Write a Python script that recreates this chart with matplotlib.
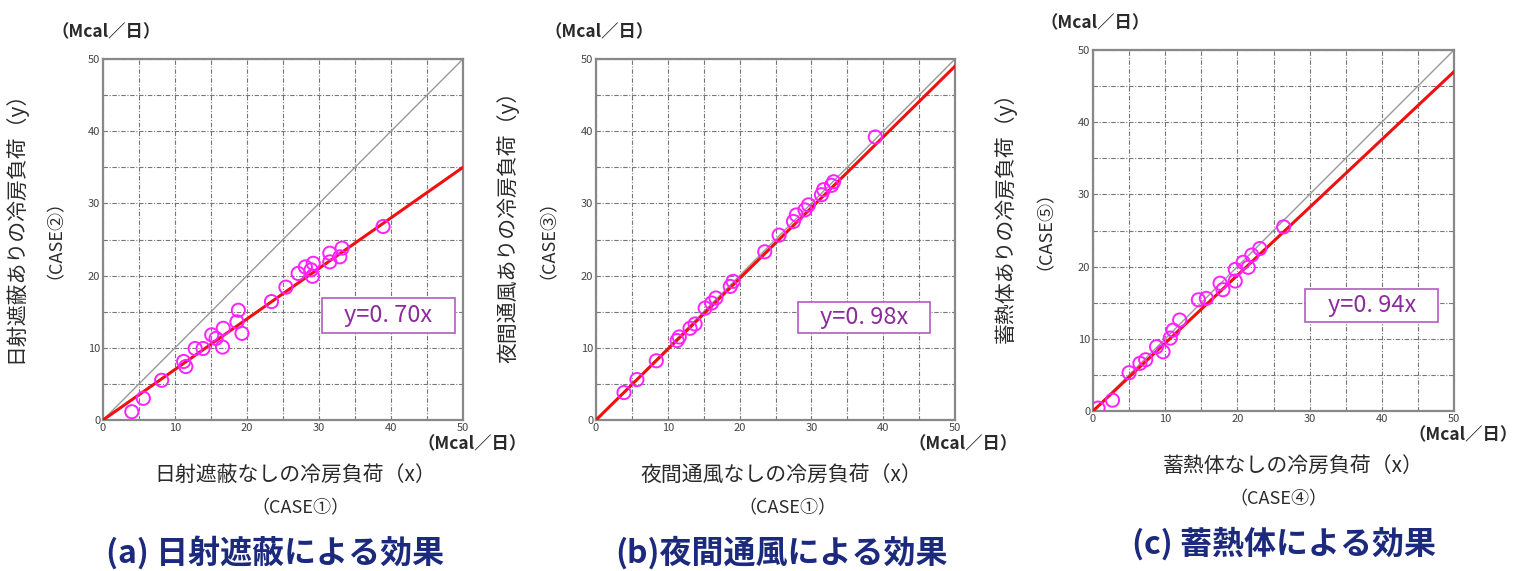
import matplotlib
matplotlib.use("Agg")
import matplotlib.pyplot as plt
from matplotlib.patches import Rectangle
import numpy as np

plt.rcParams['font.family'] = ['Noto Sans CJK JP', 'DejaVu Sans']

# ---- data ----
xa = [4.0, 5.6, 8.15, 11.2, 11.5, 12.8, 13.9, 15.1, 15.7, 16.7, 16.6, 18.6, 18.8, 19.3,
      23.4, 25.4, 27.1, 28.1, 28.9, 29.2, 29.1, 31.5, 31.5, 32.9, 33.2, 38.9]
ya = [1.15, 3.0, 5.5, 8.1, 7.4, 9.9, 9.9, 11.8, 11.3, 12.7, 10.1, 13.6, 15.2, 12.0,
      16.4, 18.4, 20.3, 21.2, 20.8, 21.7, 19.9, 23.1, 21.9, 22.6, 23.8, 26.8]
xb = [3.9, 5.7, 8.4, 11.3, 11.6, 13.1, 13.8, 15.2, 16.1, 16.7, 18.7, 19.1,
      23.5, 25.5, 27.5, 27.9, 29.1, 29.6, 31.4, 31.7, 32.8, 33.1, 38.9]
yb = [3.8, 5.6, 8.2, 11.0, 11.5, 12.7, 13.3, 15.5, 16.2, 16.9, 18.5, 19.2,
      23.3, 25.6, 27.5, 28.4, 29.1, 29.8, 31.2, 31.9, 32.5, 33.0, 39.2]
xc = [0.7, 2.7, 5.0, 6.5, 7.3, 8.8, 9.7, 10.7, 11.1, 12.0, 14.6, 15.7, 17.6, 18.0,
      19.7, 19.7, 20.8, 21.5, 22.0, 23.1, 26.4]
yc = [0.4, 1.5, 5.3, 6.6, 7.1, 8.9, 8.2, 10.1, 11.2, 12.6, 15.4, 15.6, 17.7, 16.8,
      19.6, 18.0, 20.6, 19.9, 21.6, 22.5, 25.5]
slopes = [0.70, 0.98, 0.94]
fit_labels = ['y=0. 70x', 'y=0. 98x', 'y=0. 94x']
ylabels = ['日射遮蔽ありの冷房負荷（y）', '夜間通風ありの冷房負荷（y）', '蓄熱体ありの冷房負荷（y）']
ycases = ['（CASE②）', '（CASE③）', '（CASE⑤）']
xlabels = ['日射遮蔽なしの冷房負荷（x）', '夜間通風なしの冷房負荷（x）', '蓄熱体なしの冷房負荷（x）']
xcases = ['（CASE①）', '（CASE①）', '（CASE④）']
titles = ['(a) 日射遮蔽による効果', '(b)夜間通風による効果', '(c) 蓄熱体による効果']
unit = '（Mcal／日）'
ticks = [0, 10, 20, 30, 40, 50]

W, H = 1523, 571
fig = plt.figure(figsize=(W / 100, H / 100), dpi=100)

# axes pixel boxes: left, top, right, bottom
boxes = [(103, 59, 463, 420), (596, 59, 955, 420), (1093, 50, 1454, 411)]
# annotation box extents in data units: x0, x1, y0, y1
ann = [(30.4, 48.9, 12.05, 16.9), (28.1, 46.5, 12.05, 16.3), (29.4, 47.8, 12.3, 16.9)]
xlab_dx = [12, 6, 20]
case_dx = [17, 12, 5]
title_dx = [-8, 6, 10]
xs = [xa, xb, xc]
ys = [ya, yb, yc]

txtc = '#2a2a2a'
navy = '#1c2a7e'
for i in range(3):
    l, t, r, b = boxes[i]
    ax = fig.add_axes([l / W, 1 - b / H, (r - l) / W, (b - t) / H])
    ax.set_xlim(0, 50)
    ax.set_ylim(0, 50)
    ax.set_xticks(ticks)
    ax.set_yticks(ticks)
    ax.set_xticks(np.arange(5, 50, 10), minor=True)
    ax.set_yticks(np.arange(5, 50, 10), minor=True)
    ax.tick_params(which='both', length=0, labelsize=8, colors='#444', pad=2)
    ax.grid(True, which='both', color='#777', linestyle=(0, (4, 1.5, 1, 1.5)), linewidth=0.8)
    for s in ax.spines.values():
        s.set_color('#888')
        s.set_linewidth(1.6)
    ax.plot([0, 50], [0, 50], color='#999', lw=1.0, zorder=2)
    ax.plot([0, 50], [0, 50 * slopes[i]], color='#f01010', lw=2.2, zorder=3)
    ax.scatter(xs[i], ys[i], s=90, facecolors='none', edgecolors='#ff22ff', linewidths=1.4, zorder=4)
    x0, x1, y0, y1 = ann[i]
    ax.add_patch(Rectangle((x0, y0), x1 - x0, y1 - y0, fc='white', ec='#b35cc4', lw=1.2, zorder=5))
    ax.text((x0 + x1) / 2, (y0 + y1) / 2, fit_labels[i], fontsize=17, color='#8a2d9a',
            ha='center', va='center', zorder=6)
    cx = (l + r) / 2
    # y unit
    fig.text((l - 52) / W, 1 - (t - 27) / H, unit, fontsize=12.5, color=txtc, ha='left', va='center',
             fontweight='bold')
    # x unit
    fig.text((r - 46) / W, 1 - (b + 24) / H, unit, fontsize=12.5, color=txtc, ha='left', va='center',
             fontweight='bold')
    # y labels
    fig.text((l - 88) / W, 1 - ((t + b) / 2 - 18) / H, ylabels[i], fontsize=15, color=txtc, rotation=90,
             ha='center', va='center')
    fig.text((l - 57) / W, 1 - ((t + b) / 2 - 10) / H, ycases[i], fontsize=13, color=txtc, rotation=90,
             ha='center', va='center')
    # x labels
    fig.text((cx + xlab_dx[i]) / W, 1 - (b + 55) / H, xlabels[i], fontsize=15, color=txtc,
             ha='center', va='center')
    fig.text((cx + case_dx[i]) / W, 1 - (b + 88) / H, xcases[i], fontsize=13, color=txtc,
             ha='center', va='center')
    fig.text((cx + title_dx[i]) / W, 1 - (b + 133) / H, titles[i], fontsize=23, color=navy, ha='center',
             va='center', fontweight='bold')

fig.savefig('out.png', dpi=100, facecolor='white')
